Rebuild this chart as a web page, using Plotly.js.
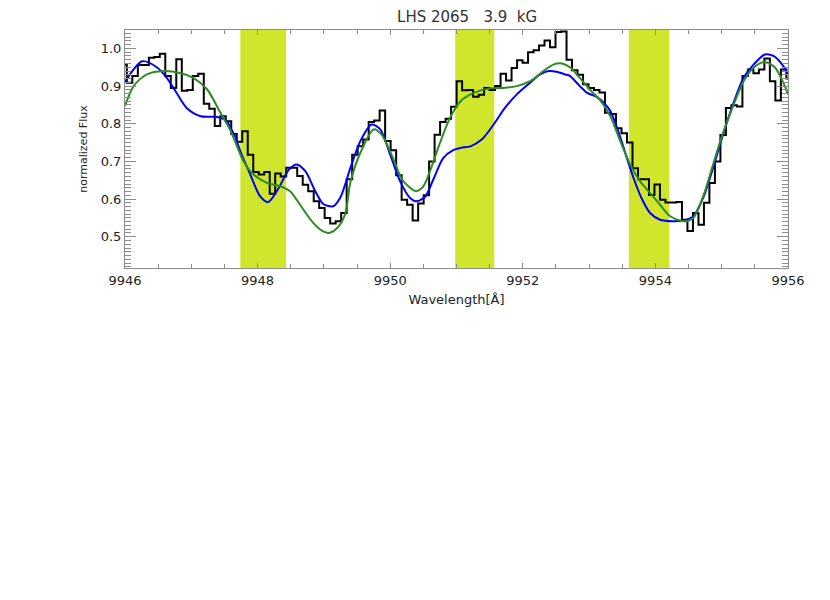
<!DOCTYPE html>
<html>
<head>
<meta charset="utf-8">
<script src="https://cdn.plot.ly/plotly-3.0.1.min.js"></script>
<style>html,body{margin:0;padding:0;background:#fff;}#chart{width:830px;height:600px;}</style>
</head>
<body>
<div id="chart"></div>
<script>
// Observed spectrum (histogram), bin centres in Angstrom
const obsWave = [9945.986,9946.069,9946.152,9946.235,9946.318,9946.401,9946.483,9946.566,9946.649,9946.732,
9946.815,9946.898,9946.981,9947.064,9947.147,9947.230,9947.312,9947.395,9947.478,9947.561,
9947.644,9947.727,9947.810,9947.893,9947.976,9948.059,9948.141,9948.224,9948.307,9948.390,
9948.473,9948.556,9948.639,9948.722,9948.805,9948.888,9948.970,9949.053,9949.136,9949.219,
9949.302,9949.385,9949.468,9949.551,9949.634,9949.717,9949.799,9949.882,9949.965,9950.048,
9950.131,9950.214,9950.297,9950.380,9950.463,9950.546,9950.628,9950.711,9950.794,9950.877,
9950.960,9951.043,9951.126,9951.209,9951.292,9951.375,9951.457,9951.540,9951.623,9951.706,
9951.789,9951.872,9951.955,9952.038,9952.121,9952.204,9952.286,9952.369,9952.452,9952.535,
9952.618,9952.701,9952.784,9952.867,9952.950,9953.033,9953.115,9953.198,9953.281,9953.364,
9953.447,9953.530,9953.613,9953.696,9953.779,9953.862,9953.944,9954.027,9954.110,9954.193,
9954.276,9954.359,9954.442,9954.525,9954.608,9954.691,9954.773,9954.856,9954.939,9955.022,
9955.105,9955.188,9955.271,9955.354,9955.437,9955.520,9955.602,9955.685,9955.768,9955.851,
9955.934,9956.017];
const obsFlux = [0.957,0.909,0.927,0.956,0.956,0.975,0.977,0.986,0.927,0.895,
0.971,0.888,0.890,0.927,0.933,0.853,0.840,0.794,0.820,0.807,
0.773,0.752,0.780,0.718,0.672,0.665,0.672,0.614,0.668,0.660,
0.683,0.683,0.661,0.638,0.621,0.594,0.576,0.550,0.535,0.541,
0.563,0.653,0.718,0.740,0.758,0.805,0.809,0.835,0.754,0.730,
0.663,0.598,0.585,0.543,0.588,0.610,0.700,0.771,0.805,0.813,
0.845,0.913,0.889,0.890,0.872,0.877,0.895,0.890,0.900,0.933,
0.915,0.948,0.969,0.962,0.990,0.995,1.008,1.021,1.003,1.044,
1.045,0.970,0.942,0.930,0.905,0.895,0.890,0.883,0.829,0.826,
0.788,0.775,0.750,0.682,0.653,0.653,0.611,0.639,0.598,0.591,
0.591,0.592,0.545,0.515,0.563,0.532,0.590,0.643,0.700,0.770,
0.842,0.849,0.846,0.927,0.944,0.934,0.944,0.973,0.913,0.862,
0.944,0.920];

// Model 1 (blue)
const blueWave = [9946.00,9946.26,9946.48,9946.63,9946.76,9946.93,9947.14,9947.39,9947.54,9947.59,
9947.66,9947.74,9947.89,9948.04,9948.16,9948.32,9948.47,9948.59,9948.72,9948.87,
9948.99,9949.14,9949.25,9949.40,9949.55,9949.72,9949.85,9950.00,9950.15,9950.30,
9950.40,9950.53,9950.65,9950.80,9950.95,9951.06,9951.21,9951.38,9951.56,9951.73,
9951.91,9952.11,9952.26,9952.39,9952.51,9952.64,9952.71,9952.86,9952.97,9953.12,
9953.22,9953.32,9953.44,9953.57,9953.67,9953.79,9953.92,9954.07,9954.27,9954.42,
9954.57,9954.72,9954.87,9955.02,9955.18,9955.33,9955.48,9955.65,9955.78,9955.93,9956.00];
const blueFlux = [0.911,0.966,0.950,0.922,0.887,0.842,0.820,0.818,0.807,0.789,
0.767,0.727,0.665,0.607,0.592,0.630,0.678,0.692,0.674,0.621,
0.587,0.581,0.605,0.683,0.754,0.798,0.785,0.718,0.647,0.603,
0.594,0.607,0.652,0.709,0.730,0.736,0.740,0.758,0.798,0.842,
0.878,0.909,0.931,0.940,0.938,0.931,0.927,0.900,0.882,0.871,
0.856,0.834,0.780,0.709,0.656,0.603,0.563,0.545,0.541,0.543,
0.554,0.603,0.683,0.771,0.856,0.922,0.957,0.984,0.980,0.953,0.931];

// Model 2 (green)
const greenWave = [9946.00,9946.13,9946.33,9946.58,9946.83,9947.03,9947.24,9947.44,9947.59,9947.79,
9947.94,9948.14,9948.34,9948.49,9948.64,9948.82,9948.97,9949.07,9949.20,9949.32,
9949.40,9949.55,9949.75,9949.87,9950.03,9950.18,9950.30,9950.39,9950.50,9950.60,
9950.75,9950.90,9951.06,9951.26,9951.51,9951.71,9951.91,9952.11,9952.31,9952.46,
9952.59,9952.71,9952.86,9953.01,9953.16,9953.32,9953.47,9953.62,9953.77,9953.92,
9954.07,9954.22,9954.42,9954.57,9954.72,9954.87,9955.02,9955.18,9955.33,9955.48,
9955.65,9955.80,9955.93,9956.00];
const greenFlux = [0.847,0.900,0.931,0.940,0.935,0.922,0.891,0.829,0.782,0.700,
0.665,0.643,0.634,0.621,0.585,0.541,0.516,0.510,0.523,0.560,
0.645,0.723,0.785,0.771,0.714,0.652,0.630,0.621,0.634,0.674,
0.749,0.815,0.860,0.882,0.894,0.895,0.900,0.913,0.940,0.957,
0.960,0.950,0.922,0.891,0.864,0.820,0.754,0.692,0.647,0.616,
0.585,0.555,0.541,0.550,0.607,0.692,0.776,0.851,0.913,0.949,
0.964,0.950,0.909,0.878];

// Highlighted wavelength windows
const bandStart = [9947.74, 9950.98, 9953.60];
const bandEnd   = [9948.43, 9951.57, 9954.21];

const xTickVals = [9946, 9948, 9950, 9952, 9954, 9956];
const yTickVals = [0.5, 0.6, 0.7, 0.8, 0.9, 1.0];

const traces = [
  {x: obsWave, y: obsFlux, mode: 'lines', line: {color: '#000000', width: 2, shape: 'hvh'}, hoverinfo: 'skip'},
  {x: blueWave, y: blueFlux, mode: 'lines', line: {color: '#0000ff', width: 2, shape: 'spline', smoothing: 0.8}, hoverinfo: 'skip'},
  {x: greenWave, y: greenFlux, mode: 'lines', line: {color: '#2e8b22', width: 2, shape: 'spline', smoothing: 0.8}, hoverinfo: 'skip'}
];

const shapes = bandStart.map((s, i) => ({
  type: 'rect', xref: 'x', yref: 'paper', x0: s, x1: bandEnd[i], y0: 0, y1: 1,
  fillcolor: '#d0e62c', line: {width: 0}, layer: 'below'
}));

const axisColor = '#8c8c8c';
const fontFam = 'DejaVu Sans, Verdana, sans-serif';
const layout = {
  width: 830, height: 600,
  margin: {l: 125, r: 42, t: 30, b: 332, pad: 0},
  paper_bgcolor: '#ffffff', plot_bgcolor: '#ffffff',
  showlegend: false,
  font: {family: fontFam, color: '#222222', size: 13},
  title: {text: 'LHS\u00a02065\u00a0\u00a0\u00a03.9\u00a0\u00a0kG', x: 0.516, xref: 'paper', xanchor: 'center',
          y: 0.972, yref: 'container', yanchor: 'middle', font: {family: fontFam, size: 15, color: '#333333'}},
  xaxis: {
    range: [9946, 9956], showgrid: false, zeroline: false,
    showline: true, linecolor: axisColor, linewidth: 1, mirror: 'allticks',
    ticks: 'inside', ticklen: 5, tickcolor: axisColor, tickwidth: 1,
    tickvals: xTickVals, ticktext: xTickVals.map(String),
    tickfont: {family: fontFam, size: 13, color: '#222222'},
    minor: {dtick: 0.5, ticks: 'inside', ticklen: 4, tickcolor: axisColor, showgrid: false},
    title: {text: 'Wavelength[Å]', font: {family: fontFam, size: 13, color: '#222222'}, standoff: 8}
  },
  yaxis: {
    range: [0.417, 1.049], showgrid: false, zeroline: false,
    showline: true, linecolor: axisColor, linewidth: 1, mirror: 'allticks',
    ticks: 'inside', ticklen: 11, tickcolor: axisColor, tickwidth: 1,
    tickvals: yTickVals, ticktext: yTickVals.map(v => v.toFixed(1)),
    tickfont: {family: fontFam, size: 13, color: '#222222'},
    minor: {dtick: 0.01, ticks: 'inside', ticklen: 6, tickcolor: axisColor, showgrid: false},
    title: {text: 'normalized Flux', font: {family: fontFam, size: 11, color: '#222222'}, standoff: 10}
  },
  shapes: shapes
};

Plotly.newPlot('chart', traces, layout, {displayModeBar: false, staticPlot: true});
</script>
</body>
</html>
